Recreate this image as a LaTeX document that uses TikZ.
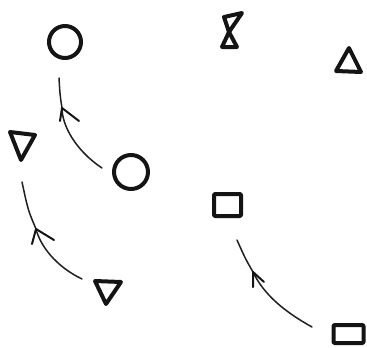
\documentclass[tikz,border=0pt]{standalone}
\begin{document}
\begin{tikzpicture}[x=1pt,y=-1pt,
  shapeline/.style={draw=black!92,line width=4pt,line join=round,line cap=round},
  ring/.style={shapeline,circle,inner sep=0pt},
  boxshape/.style={shapeline,rectangle,inner sep=0pt,rounded corners=1pt},
  flow/.style={draw=black!88,line width=1.5pt,line cap=round},
  barb/.style={draw=black!92,line width=2pt,line cap=round,line join=round}]
\useasboundingbox (0,0) rectangle (367,348);
% circles
\node[ring,minimum size=32pt] (c1) at (65,42) {};
\node[ring,minimum size=34pt] (c2) at (131,172) {};
% squares
\node[boxshape,minimum width=27pt,minimum height=22pt] (s1) at (227.5,205) {};
\node[boxshape,minimum width=30pt,minimum height=18pt] (s2) at (348.5,334) {};
% triangles
\draw[shapeline] (10,132) -- (35,135) -- (21,160) -- cycle;
\draw[shapeline] (95,281) -- (121,282) -- (106,304) -- cycle;
\draw[shapeline] (349,48) -- (336,71) -- (361,72) -- cycle;
% hourglass
\draw[shapeline] (224,17) -- (242,13) -- (229,32) -- cycle;
\draw[shapeline] (229,32) -- (222,47) -- (237,47) -- cycle;
% arrow end points and heads
\coordinate (a1s) at (102,168);
\coordinate (a1e) at (59,78);
\coordinate (a1h) at (62,108);
\coordinate (a2s) at (82,279);
\coordinate (a2e) at (22,182);
\coordinate (a2h) at (36,229);
\coordinate (a3s) at (312,327);
\coordinate (a3e) at (237,240);
\coordinate (a3h) at (253,272);
% arrows
\draw[flow] (a1s) .. controls (75,150) and (62,125) .. (a1h) .. controls (60,95) .. (a1e);
\draw[flow] (a2s) .. controls (55,266) and (40,245) .. (a2h) .. controls (28,210) .. (a2e);
\draw[flow] (a3s) .. controls (285,312) and (264,295) .. (a3h) .. controls (245,258) .. (a3e);
\draw[barb] ([shift={(-2,13)}]a1h) -- (a1h) -- ([shift={(17,13)}]a1h);
\draw[barb] ([shift={(-4,15)}]a2h) -- (a2h) -- ([shift={(18,11)}]a2h);
\draw[barb] ([shift={(0,15)}]a3h) -- (a3h) -- ([shift={(11,10)}]a3h);
\end{tikzpicture}
\end{document}
